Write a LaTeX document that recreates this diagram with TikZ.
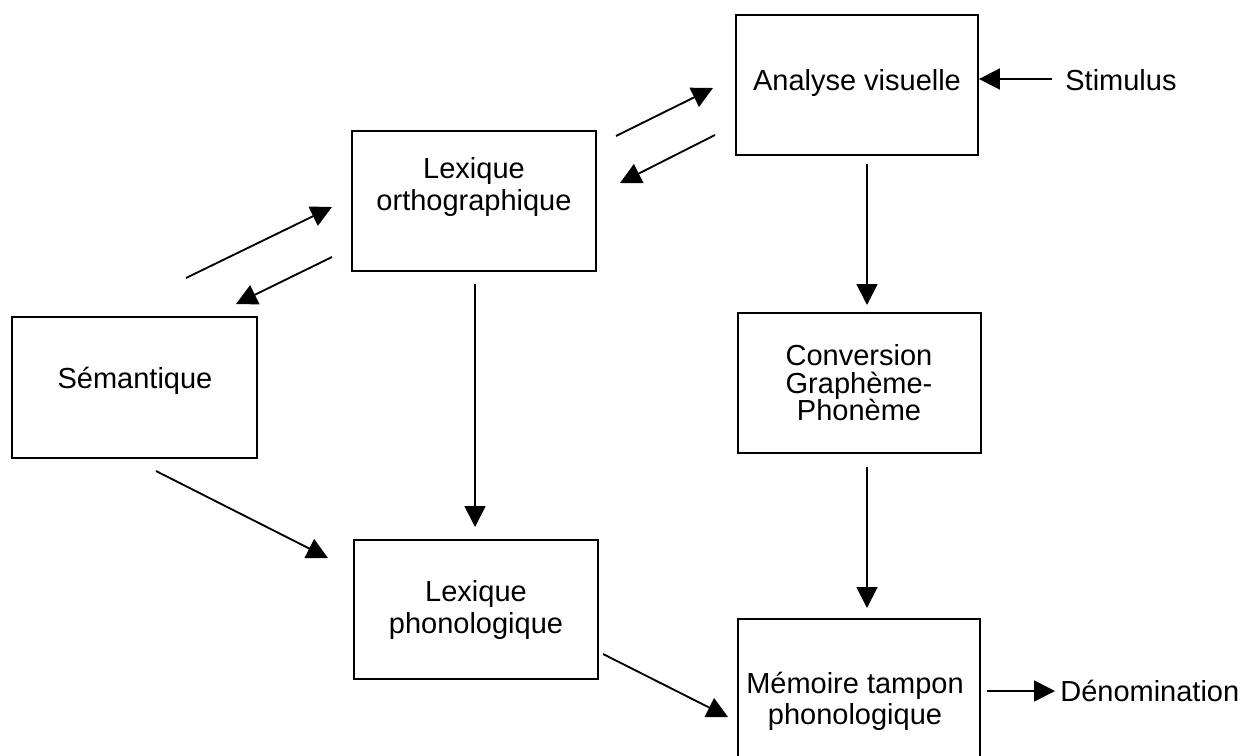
\documentclass[tikz,border=0pt]{standalone}
\usepackage{fontspec}
\setmainfont{Liberation Sans}
\usetikzlibrary{arrows.meta}
\begin{document}
\begin{tikzpicture}[x=0.02cm,y=-0.02cm,
  box/.style={draw, line width=1.1pt, inner sep=0pt},
  txt/.style={inner sep=0pt, align=center, font=\fontsize{16.5pt}{17.6pt}\selectfont},
  wide/.style={font=\fontsize{16.5pt}{18.2pt}\selectfont},
  arr/.style={line width=1.05pt, -{Triangle[length=0.42cm,width=0.42cm]}}]
\useasboundingbox (0,0) rectangle (1242,755);
\clip (0,0) rectangle (1242,755);

% boxes
\node[box, minimum width=4.84cm, minimum height=2.8cm] (av) at (857,85) {};
\node[box, minimum width=4.88cm, minimum height=2.8cm] (lo) at (474,201) {};
\node[box, minimum width=4.9cm, minimum height=2.82cm] (se) at (134.5,387.5) {};
\node[box, minimum width=4.86cm, minimum height=2.8cm] (cg) at (859.5,383) {};
\node[box, minimum width=4.88cm, minimum height=2.78cm] (lp) at (476,609.5) {};
\node[box, minimum width=4.84cm, minimum height=2.8cm] (mt) at (859,689) {};

% texts
\node[txt, anchor=base] (avt) at (857,90) {Analyse visuelle};
\node[txt, wide] (lot) at (474,187) {Lexique\\orthographique};
\node[txt] (set) at (135,381) {Sémantique};
\node[txt, font=\fontsize{16.5pt}{15.7pt}\selectfont] (cgt) at (859,383) {Conversion\\Graphème-\\Phonème};
\node[txt, wide] (lpt) at (476,610) {Lexique\\phonologique};
\node[txt] (mtt) at (855,701) {Mémoire tampon\\phonologique};
\node[txt, anchor=base west] (stim) at (1065,90) {Stimulus};
\node[txt, anchor=base west] (den) at (1060,701) {Dénomination};

% connector end points
\coordinate (sA) at (1052,79);
\coordinate (loav1) at (616,136);  \coordinate (loav2) at (713,88);
\coordinate (avlo1) at (715,135);  \coordinate (avlo2) at (620,183);
\coordinate (selo1) at (186,278);  \coordinate (selo2) at (332,207);
\coordinate (lose1) at (332,257);  \coordinate (lose2) at (236,304);
\coordinate (lolp1) at (475,284);  \coordinate (lolp2) at (475,527);
\coordinate (avcg1) at (867,164);  \coordinate (avcg2) at (867,305);
\coordinate (cgmt1) at (867,467);  \coordinate (cgmt2) at (867,608);
\coordinate (selp1) at (156,471);  \coordinate (selp2) at (328,558);
\coordinate (lpmt1) at (603,654);  \coordinate (lpmt2) at (728,717);
\coordinate (mtd1) at (987,691);   \coordinate (mtd2) at (1055,691);

% connectors
\draw[arr] (sA) -- (av.east |- sA);
\draw[arr] (loav1) -- (loav2);
\draw[arr] (avlo1) -- (avlo2);
\draw[arr] (selo1) -- (selo2);
\draw[arr] (lose1) -- (lose2);
\draw[arr] (lolp1) -- (lolp2);
\draw[arr] (avcg1) -- (avcg2);
\draw[arr] (cgmt1) -- (cgmt2);
\draw[arr] (selp1) -- (selp2);
\draw[arr] (lpmt1) -- (lpmt2);
\draw[arr] (mtd1) -- (mtd2);
\end{tikzpicture}
\end{document}
